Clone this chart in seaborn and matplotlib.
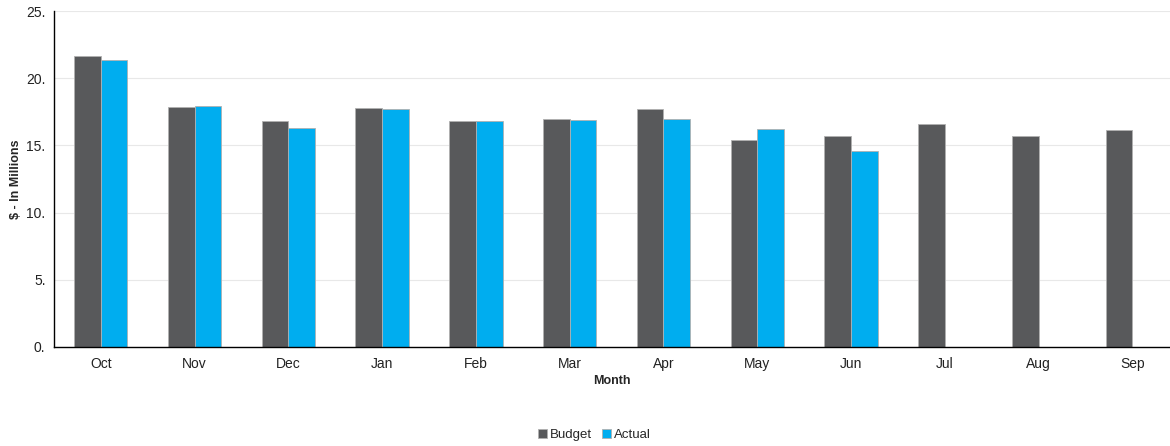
import matplotlib
matplotlib.use("Agg")
import matplotlib.pyplot as plt
import seaborn as sns
import pandas as pd
import numpy as np
from matplotlib.ticker import FuncFormatter

months = ["Oct", "Nov", "Dec", "Jan", "Feb", "Mar", "Apr", "May", "Jun", "Jul", "Aug", "Sep"]
budget = [21.63, 17.88, 16.82, 17.78, 16.82, 17.0, 17.75, 15.38, 15.68, 16.57, 15.68, 16.12]
actual = [21.38, 17.96, 16.27, 17.7, 16.8, 16.9, 17.0, 16.22, 14.58, np.nan, np.nan, np.nan]
series_names = ["Budget", "Actual"]
colors = ["#58595b", "#00adef"]

df = pd.DataFrame({
    "Month": months * 2,
    "Value": budget + actual,
    "Series": [series_names[0]] * len(months) + [series_names[1]] * len(months),
})

sns.set_theme(style="white")
plt.rcParams["font.family"] = ["Liberation Sans", "DejaVu Sans"]

fig = plt.figure(figsize=(11.7, 4.46), dpi=100)
ax = fig.add_axes([0.046, 0.222, 0.954, 0.753])

sns.barplot(data=df, x="Month", y="Value", hue="Series", order=months,
            hue_order=series_names, palette=colors, saturation=1, width=0.57,
            edgecolor="#b0b0b0", linewidth=0.6, ax=ax, legend=True)

ax.set_xlim(-0.5, 11.4)
ax.set_ylim(0, 25)
ax.set_yticks([0, 5, 10, 15, 20, 25])
ax.yaxis.set_major_formatter(FuncFormatter(lambda v, p: f"{v:.0f}."))
ax.grid(axis="y", color="#e8e8e8", linewidth=0.8)
ax.set_axisbelow(True)
for side in ["top", "right"]:
    ax.spines[side].set_visible(False)
for side in ["left", "bottom"]:
    ax.spines[side].set_color("black")
    ax.spines[side].set_linewidth(1.0)
ax.tick_params(axis="y", length=0, labelsize=10, colors="#222222", pad=6)
ax.tick_params(axis="x", length=0, labelsize=10, colors="#222222", pad=7)
ax.set_xlabel("Month", fontsize=9, fontweight="bold", labelpad=3)
ax.set_ylabel("$ - In Millions", fontsize=9, fontweight="bold", labelpad=3)

handles, labels = ax.get_legend_handles_labels()
ax.legend(handles, labels, loc="center", bbox_to_anchor=(0.508, 0.025),
          bbox_transform=fig.transFigure, ncol=2, frameon=False, fontsize=9.5,
          handlelength=0.7, handleheight=0.7, handletextpad=0.2, columnspacing=0.8)

fig.savefig("out.png", dpi=100)
